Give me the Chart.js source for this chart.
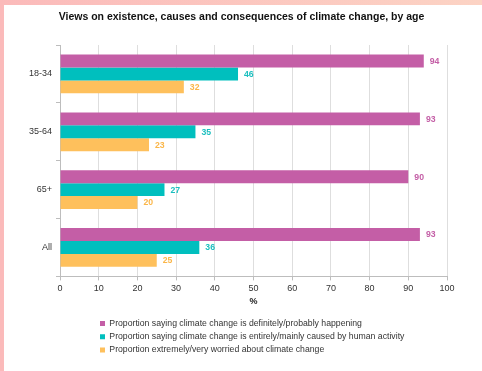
<!DOCTYPE html>
<html>
<head>
<meta charset="utf-8">
<script src="https://cdn.jsdelivr.net/npm/chart.js@4"></script>
<style>
  html, body { margin: 0; padding: 0; }
  body { width: 482px; height: 371px; background: linear-gradient(to right, #fbbaba, #fcd3c4); position: relative; overflow: hidden; }
  #card { position: absolute; left: 4px; top: 5px; width: 478px; height: 366px; background: #fff; }
  canvas { display: block; }
</style>
</head>
<body>
<div id="card"><canvas id="c" width="478" height="366"></canvas></div>
<script>
const categories = ['18-34', '35-64', '65+', 'All'];
const seriesNames = [
  'Proportion saying climate change is definitely/probably happening',
  'Proportion saying climate change is entirely/mainly caused by human activity',
  'Proportion extremely/very worried about climate change'
];
const happening = [94, 93, 90, 93];
const humanCaused = [46, 35, 27, 36];
const worried = [32, 23, 20, 25];
const xTicks = [0, 10, 20, 30, 40, 50, 60, 70, 80, 90, 100];

const colors = ['#c45ea6', '#00bfbe', '#fec05c'];
const labelColors = ['#c45ea6', '#1bbfbf', '#fbb648'];

const valueLabels = {
  id: 'valueLabels',
  afterDatasetsDraw(chart) {
    const ctx = chart.ctx;
    ctx.save();
    ctx.font = 'bold 8.7px "Liberation Sans", Arial, sans-serif';
    ctx.textAlign = 'left';
    ctx.textBaseline = 'middle';
    chart.data.datasets.forEach((ds, di) => {
      const meta = chart.getDatasetMeta(di);
      ctx.fillStyle = labelColors[di];
      meta.data.forEach((bar, i) => {
        ctx.fillText(String(ds.data[i]), bar.x + 6, bar.y + 0.5);
      });
    });
    ctx.restore();
  }
};

const shiftBlocks = {
  id: 'shiftBlocks',
  afterLayout(chart) {
    const lg = chart.legend;
    if (lg) {
      const w = lg.right - lg.left;
      lg.left = 91.5;
      lg.right = lg.left + w;
    }
    const tb = chart.titleBlock;
    if (tb) {
      tb.left += 16;
      tb.right += 16;
    }
  }
};

new Chart(document.getElementById('c'), {
  type: 'bar',
  data: {
    labels: categories,
    datasets: [
      { label: seriesNames[0], data: happening, backgroundColor: colors[0], borderWidth: 0 },
      { label: seriesNames[1], data: humanCaused, backgroundColor: colors[1], borderWidth: 0 },
      { label: seriesNames[2], data: worried, backgroundColor: colors[2], borderWidth: 0 }
    ]
  },
  plugins: [valueLabels, shiftBlocks],
  options: {
    indexAxis: 'y',
    responsive: false,
    animation: false,
    devicePixelRatio: 1,
    categoryPercentage: 0.67,
    barPercentage: 1,
    layout: { padding: { left: 0, right: 35, top: 0, bottom: 6.75 } },
    plugins: {
      title: {
        display: true,
        text: 'Views on existence, causes and consequences of climate change, by age',
        color: '#111',
        font: { family: '"Liberation Sans", Arial, sans-serif', size: 10.5, weight: 'bold', lineHeight: 1.2 },
        padding: { top: 6, bottom: 21.4 }
      },
      legend: {
        position: 'bottom',
        align: 'start',
        labels: {
          boxWidth: 5,
          boxHeight: 5,
          padding: 4.5,
          color: '#333',
          font: { family: '"Liberation Sans", Arial, sans-serif', size: 8.7 },
          generateLabels(chart) {
            return chart.data.datasets.map((ds, i) => ({
              text: ds.label,
              fillStyle: colors[i],
              strokeStyle: colors[i],
              lineWidth: 0,
              fontColor: '#333',
              hidden: false,
              datasetIndex: i
            }));
          }
        }
      },
      tooltip: { enabled: false }
    },
    scales: {
      x: {
        min: 0,
        max: 100,
        afterFit(s) { s.height = 38.25; },
        afterBuildTicks(s) { s.ticks = xTicks.map(v => ({ value: v })); },
        ticks: {
          color: '#333',
          padding: 3,
          font: { family: '"Liberation Sans", Arial, sans-serif', size: 9 }
        },
        grid: { color: '#dedede', tickLength: 4, tickColor: '#bdbdbd' },
        border: { color: '#bdbdbd' },
        title: {
          display: true,
          text: '%',
          color: '#222',
          font: { family: '"Liberation Sans", Arial, sans-serif', size: 9, weight: 'bold', lineHeight: 1.2 },
          padding: { top: 0, bottom: 7.85 }
        }
      },
      y: {
        afterFit(s) { s.width = 56; },
        ticks: {
          color: '#333',
          padding: 4,
          font: { family: '"Liberation Sans", Arial, sans-serif', size: 9 }
        },
        grid: { drawOnChartArea: false, tickLength: 4, color: '#bdbdbd', offset: true },
        border: { color: '#bdbdbd' }
      }
    }
  }
});
</script>
</body>
</html>
